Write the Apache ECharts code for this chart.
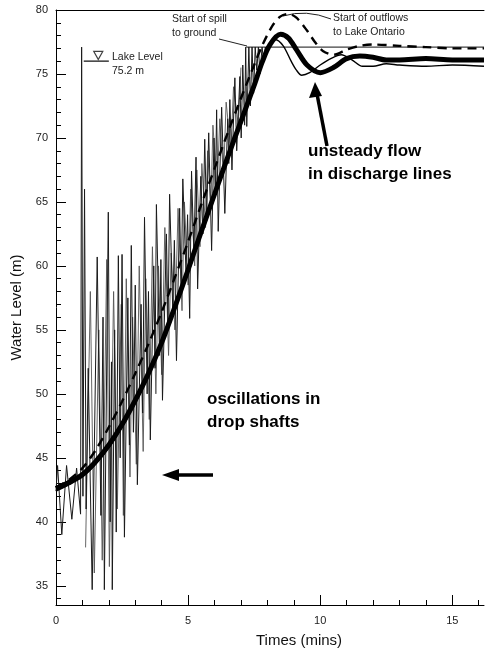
<!DOCTYPE html>
<html>
<head>
<meta charset="utf-8">
<script src="https://cdn.jsdelivr.net/npm/echarts@6/dist/echarts.min.js"></script>
<style>html,body{margin:0;padding:0;background:#fff;}#c{width:486px;height:653px;}</style>
</head>
<body>
<div id="c"></div>
<script>
// ---- data (time in minutes, water level in m) ----
const yLabelValues = [35, 40, 45, 50, 55, 60, 65, 70, 75, 80];
const xLabelValues = [0, 5, 10, 15];

// thick curve
const mainTime  = [0, 0.5, 1, 1.5, 2, 2.5, 3, 3.5, 4, 4.5, 5, 5.5, 6, 6.5, 7, 7.5, 7.8, 8.1, 8.5, 8.8, 9.1, 9.5, 10, 10.5, 11, 11.5, 12, 12.5, 13, 14, 15, 16.2];
const mainLevel = [42.6, 43.1, 43.7, 44.7, 46.0, 47.6, 49.5, 51.6, 54.0, 56.8, 59.7, 62.7, 65.6, 68.5, 71.3, 74.1, 75.9, 77.3, 78.1, 77.8, 76.9, 75.7, 75.1, 75.5, 76.2, 76.4, 76.3, 76.1, 76.1, 76.2, 76.1, 76.1];

// dashed curve
const dashTime  = [0, 0.5, 1, 1.5, 2, 2.5, 3, 3.5, 4, 4.5, 5, 5.5, 6, 6.5, 7, 7.5, 7.8, 8.2, 8.5, 8.8, 9.1, 9.5, 9.8, 10.1, 10.5, 11, 11.5, 12, 13, 14, 15, 16.2];
const dashLevel = [42.7, 43.3, 44.2, 45.6, 47.4, 49.4, 51.6, 53.9, 56.4, 59.1, 61.9, 64.8, 67.6, 70.4, 73.1, 75.7, 77.2, 78.8, 79.5, 79.7, 79.4, 78.4, 77.5, 76.8, 76.5, 76.9, 77.2, 77.3, 77.2, 77.1, 77.0, 77.0];

// thin curve
const thinTime  = [0, 0.5, 1, 1.5, 2, 2.5, 3, 3.5, 4, 4.5, 5, 5.5, 6, 6.5, 7, 7.5, 7.8, 8.1, 8.3, 8.6, 8.9, 9.1, 9.3, 9.6, 10.0, 10.4, 10.8, 11.2, 11.6, 12, 12.5, 13, 14, 15, 16.2];
const thinLevel = [42.4, 42.9, 43.5, 44.5, 45.8, 47.4, 49.3, 51.4, 53.8, 56.6, 59.5, 62.5, 65.4, 68.3, 71.2, 74.2, 76.1, 77.3, 77.7, 77.2, 76.0, 75.3, 74.9, 75.1, 75.7, 76.2, 76.5, 76.1, 75.6, 75.6, 75.8, 75.7, 75.6, 75.7, 75.6];

// drop shaft oscillations (shaft A, black)
const oscTime  = [0.00, 0.06, 0.22, 0.40, 0.60, 0.78, 0.93, 0.97, 1.02, 1.08, 1.14, 1.22, 1.37, 1.56, 1.70, 1.78, 1.83, 1.98, 2.05, 2.10, 2.13, 2.22, 2.28, 2.36, 2.43, 2.50, 2.59, 2.72, 2.78, 2.85, 2.93, 3.00, 3.08, 3.22, 3.28, 3.35, 3.45, 3.50, 3.57, 3.70, 3.75, 3.80, 3.92, 3.97, 4.03, 4.18, 4.24, 4.30, 4.42, 4.48, 4.56, 4.68, 4.74, 4.80, 4.92, 4.98, 5.06, 5.13, 5.22, 5.30, 5.36, 5.48, 5.56, 5.63, 5.70, 5.78, 5.89, 5.98, 6.03, 6.08, 6.14, 6.27, 6.39, 6.50, 6.54, 6.58, 6.66, 6.77, 6.84, 6.96, 7.01, 7.07, 7.14, 7.18, 7.22, 7.30, 7.36, 7.42, 7.48, 7.54, 7.60, 7.66, 7.72, 7.80, 7.86, 7.92, 8.00, 8.05];
const oscLevel = [42.4, 44.4, 39.0, 44.4, 40.2, 44.2, 40.6, 77.1, 42.0, 66.0, 41.0, 52.0, 34.7, 60.7, 40.5, 56.0, 34.7, 64.2, 40.0, 52.5, 34.7, 55.0, 39.2, 60.8, 45.0, 60.9, 38.8, 57.5, 46.0, 61.6, 47.0, 58.5, 42.9, 57.0, 48.5, 63.8, 50.0, 58.0, 46.4, 60.0, 52.0, 64.8, 53.0, 60.5, 49.5, 62.5, 55.0, 65.6, 56.5, 62.0, 52.6, 64.5, 58.0, 66.8, 59.5, 64.0, 55.9, 67.4, 61.0, 68.5, 58.2, 67.0, 62.5, 69.9, 63.5, 70.4, 61.2, 70.0, 65.5, 72.2, 62.7, 72.4, 64.1, 71.5, 68.0, 73.0, 67.5, 74.7, 69.0, 74.8, 70.0, 75.7, 71.0, 77.1, 70.9, 77.1, 72.5, 77.1, 73.5, 77.1, 75.3, 77.1, 75.0, 77.1, 76.0, 77.1, 76.8, 77.2];

// drop shaft oscillations (shaft B, grey)
const osc2Time  = [1.12, 1.30, 1.45, 1.62, 1.75, 1.92, 2.02, 2.18, 2.32, 2.47, 2.55, 2.66, 2.80, 2.90, 3.04, 3.15, 3.30, 3.40, 3.53, 3.65, 3.78, 3.88, 4.00, 4.12, 4.26, 4.36, 4.50, 4.62, 4.77, 4.86, 5.00, 5.10, 5.25, 5.33, 5.45, 5.52, 5.66, 5.74, 5.86, 5.94, 6.10, 6.20, 6.34, 6.44, 6.62, 6.72, 6.90, 7.00];
const osc2Level = [38.0, 58.0, 36.0, 55.0, 37.0, 60.5, 36.5, 58.0, 41.0, 57.0, 40.5, 59.0, 43.5, 56.0, 44.5, 60.0, 45.5, 59.0, 48.0, 61.5, 50.0, 60.0, 51.5, 63.0, 53.0, 61.0, 55.0, 64.5, 56.5, 65.0, 58.5, 66.0, 60.0, 67.5, 61.5, 68.0, 63.0, 69.0, 64.5, 71.0, 66.0, 71.5, 67.0, 72.8, 69.0, 74.0, 71.0, 75.5];

// spill-to-ground level and lake level marker
const spillTime  = [7.2, 16.2];
const spillLevel = [77.1, 77.1];
const lakeTime   = [1.05, 2.0];
const lakeLevel  = [76.0, 76.0];
const lakeSymbolTime = [1.6];
const lakeSymbolLevel = [76.45];

const zip = (a, b) => a.map((v, i) => [v, b[i]]);
const range = (a, b) => { const r = []; for (let i = a; i <= b; i++) r.push(i); return r; };

const FONT = 'Liberation Sans, Arial, Helvetica, sans-serif';
const chart = echarts.init(document.getElementById('c'), null, {renderer: 'canvas'});

chart.setOption({
  animation: false,
  backgroundColor: '#fff',
  grid: {left: 56, right: 2, top: 10, bottom: 45, containLabel: false},
  xAxis: [
    {
      type: 'value', min: 0, max: 16.2, position: 'bottom',
      axisLine: {show: true, onZero: false, lineStyle: {color: '#000', width: 1}},
      axisTick: {show: true, inside: true, length: 10, customValues: xLabelValues, lineStyle: {color: '#000'}},
      axisLabel: {show: true, customValues: xLabelValues, color: '#222', fontSize: 11, fontFamily: FONT, margin: 10},
      splitLine: {show: false},
      name: 'Times (mins)', nameLocation: 'middle', nameGap: 28,
      nameTextStyle: {fontSize: 15, color: '#111', fontFamily: FONT, padding: [0, 0, 0, 58]}
    },
    {
      type: 'value', min: 0, max: 16.2, position: 'bottom',
      axisLine: {show: false},
      axisTick: {show: true, inside: true, length: 5, customValues: range(1, 16), lineStyle: {color: '#000'}},
      axisLabel: {show: false}, splitLine: {show: false}
    },
    {
      type: 'value', min: 0, max: 16.2, position: 'top',
      axisLine: {show: true, onZero: false, lineStyle: {color: '#000', width: 1}},
      axisTick: {show: false}, axisLabel: {show: false}, splitLine: {show: false}
    }
  ],
  yAxis: [
    {
      type: 'value', min: 33.5, max: 80, position: 'left',
      axisLine: {show: true, onZero: false, lineStyle: {color: '#000', width: 1}},
      axisTick: {show: true, inside: true, length: 10, customValues: yLabelValues, lineStyle: {color: '#000'}},
      axisLabel: {show: true, customValues: yLabelValues, color: '#222', fontSize: 11, fontFamily: FONT, margin: 8},
      splitLine: {show: false},
      name: 'Water Level (m)', nameLocation: 'middle', nameGap: 32, nameRotate: 90,
      nameTextStyle: {fontSize: 15, color: '#111', fontFamily: FONT}
    },
    {
      type: 'value', min: 33.5, max: 80, position: 'left',
      axisLine: {show: false},
      axisTick: {show: true, inside: true, length: 5, customValues: range(34, 79), lineStyle: {color: '#000'}},
      axisLabel: {show: false}, splitLine: {show: false}
    }
  ],
  series: [
    {
      name: 'oscillations B', type: 'line', xAxisIndex: 0, yAxisIndex: 0,
      data: zip(osc2Time, osc2Level), showSymbol: false, symbol: 'none',
      lineStyle: {color: '#555', width: 0.9}, z: 1
    },
    {
      name: 'oscillations A', type: 'line', xAxisIndex: 0, yAxisIndex: 0,
      data: zip(oscTime, oscLevel), showSymbol: false, symbol: 'none',
      lineStyle: {color: '#1a1a1a', width: 1}, z: 2
    },
    {
      name: 'spill', type: 'line', xAxisIndex: 0, yAxisIndex: 0,
      data: zip(spillTime, spillLevel), showSymbol: false, symbol: 'none',
      lineStyle: {color: '#111', width: 1}, z: 2
    },
    {
      name: 'lake', type: 'line', xAxisIndex: 0, yAxisIndex: 0,
      data: zip(lakeTime, lakeLevel), showSymbol: false, symbol: 'none',
      lineStyle: {color: '#111', width: 1.2}, z: 2
    },
    {
      name: 'lakeSymbol', type: 'scatter', xAxisIndex: 0, yAxisIndex: 0,
      data: zip(lakeSymbolTime, lakeSymbolLevel), symbol: 'triangle', symbolRotate: 180, symbolSize: [9, 8],
      itemStyle: {color: '#fff', borderColor: '#111', borderWidth: 1.2}, z: 3
    },
    {
      name: 'thin', type: 'line', xAxisIndex: 0, yAxisIndex: 0,
      data: zip(thinTime, thinLevel), showSymbol: false, symbol: 'none', smooth: 0.3,
      lineStyle: {color: '#000', width: 1.4}, z: 3
    },
    {
      name: 'dashed', type: 'line', xAxisIndex: 0, yAxisIndex: 0,
      data: zip(dashTime, dashLevel), showSymbol: false, symbol: 'none', smooth: 0.3,
      lineStyle: {color: '#000', width: 2.4, type: [9, 6]}, z: 4
    },
    {
      name: 'main', type: 'line', xAxisIndex: 0, yAxisIndex: 0,
      data: zip(mainTime, mainLevel), showSymbol: false, symbol: 'none', smooth: 0.3,
      lineStyle: {color: '#000', width: 5}, z: 5
    }
  ],
  graphic: [
    {type: 'text', left: 112, top: 52, style: {text: 'Lake Level', fontSize: 10.5, fontFamily: FONT, fill: '#222'}},
    {type: 'text', left: 112, top: 66, style: {text: '75.2 m', fontSize: 10.5, fontFamily: FONT, fill: '#222'}},
    {type: 'text', left: 172, top: 14, style: {text: 'Start of spill', fontSize: 10.5, fontFamily: FONT, fill: '#222'}},
    {type: 'text', left: 172, top: 28, style: {text: 'to ground', fontSize: 10.5, fontFamily: FONT, fill: '#222'}},
    {type: 'polyline', shape: {points: [[219, 39], [247, 46]]}, style: {stroke: '#222', lineWidth: 1, fill: null}},
    {type: 'text', left: 333, top: 13, style: {text: 'Start of outflows', fontSize: 10.5, fontFamily: FONT, fill: '#222'}},
    {type: 'text', left: 333, top: 27, style: {text: 'to Lake Ontario', fontSize: 10.5, fontFamily: FONT, fill: '#222'}},
    {type: 'bezierCurve', shape: {x1: 331, y1: 19, x2: 283, y2: 16, cpx1: 306, cpy1: 9}, style: {stroke: '#222', lineWidth: 1, fill: null}},
    {type: 'text', left: 308, top: 143, style: {text: 'unsteady flow', fontSize: 17, fontWeight: 'bold', fontFamily: FONT, fill: '#000'}},
    {type: 'text', left: 308, top: 166, style: {text: 'in discharge lines', fontSize: 17, fontWeight: 'bold', fontFamily: FONT, fill: '#000'}},
    {type: 'polyline', shape: {points: [[327, 146], [317, 94]]}, style: {stroke: '#000', lineWidth: 3.5, fill: null}},
    {type: 'polygon', shape: {points: [[315, 82], [309, 98], [322, 96]]}, style: {fill: '#000'}},
    {type: 'text', left: 207, top: 391, style: {text: 'oscillations in', fontSize: 17, fontWeight: 'bold', fontFamily: FONT, fill: '#000'}},
    {type: 'text', left: 207, top: 414, style: {text: 'drop shafts', fontSize: 17, fontWeight: 'bold', fontFamily: FONT, fill: '#000'}},
    {type: 'polyline', shape: {points: [[213, 475], [176, 475]]}, style: {stroke: '#000', lineWidth: 3.5, fill: null}},
    {type: 'polygon', shape: {points: [[162, 475], [179, 469], [179, 481]]}, style: {fill: '#000'}}
  ]
});
</script>
</body>
</html>
